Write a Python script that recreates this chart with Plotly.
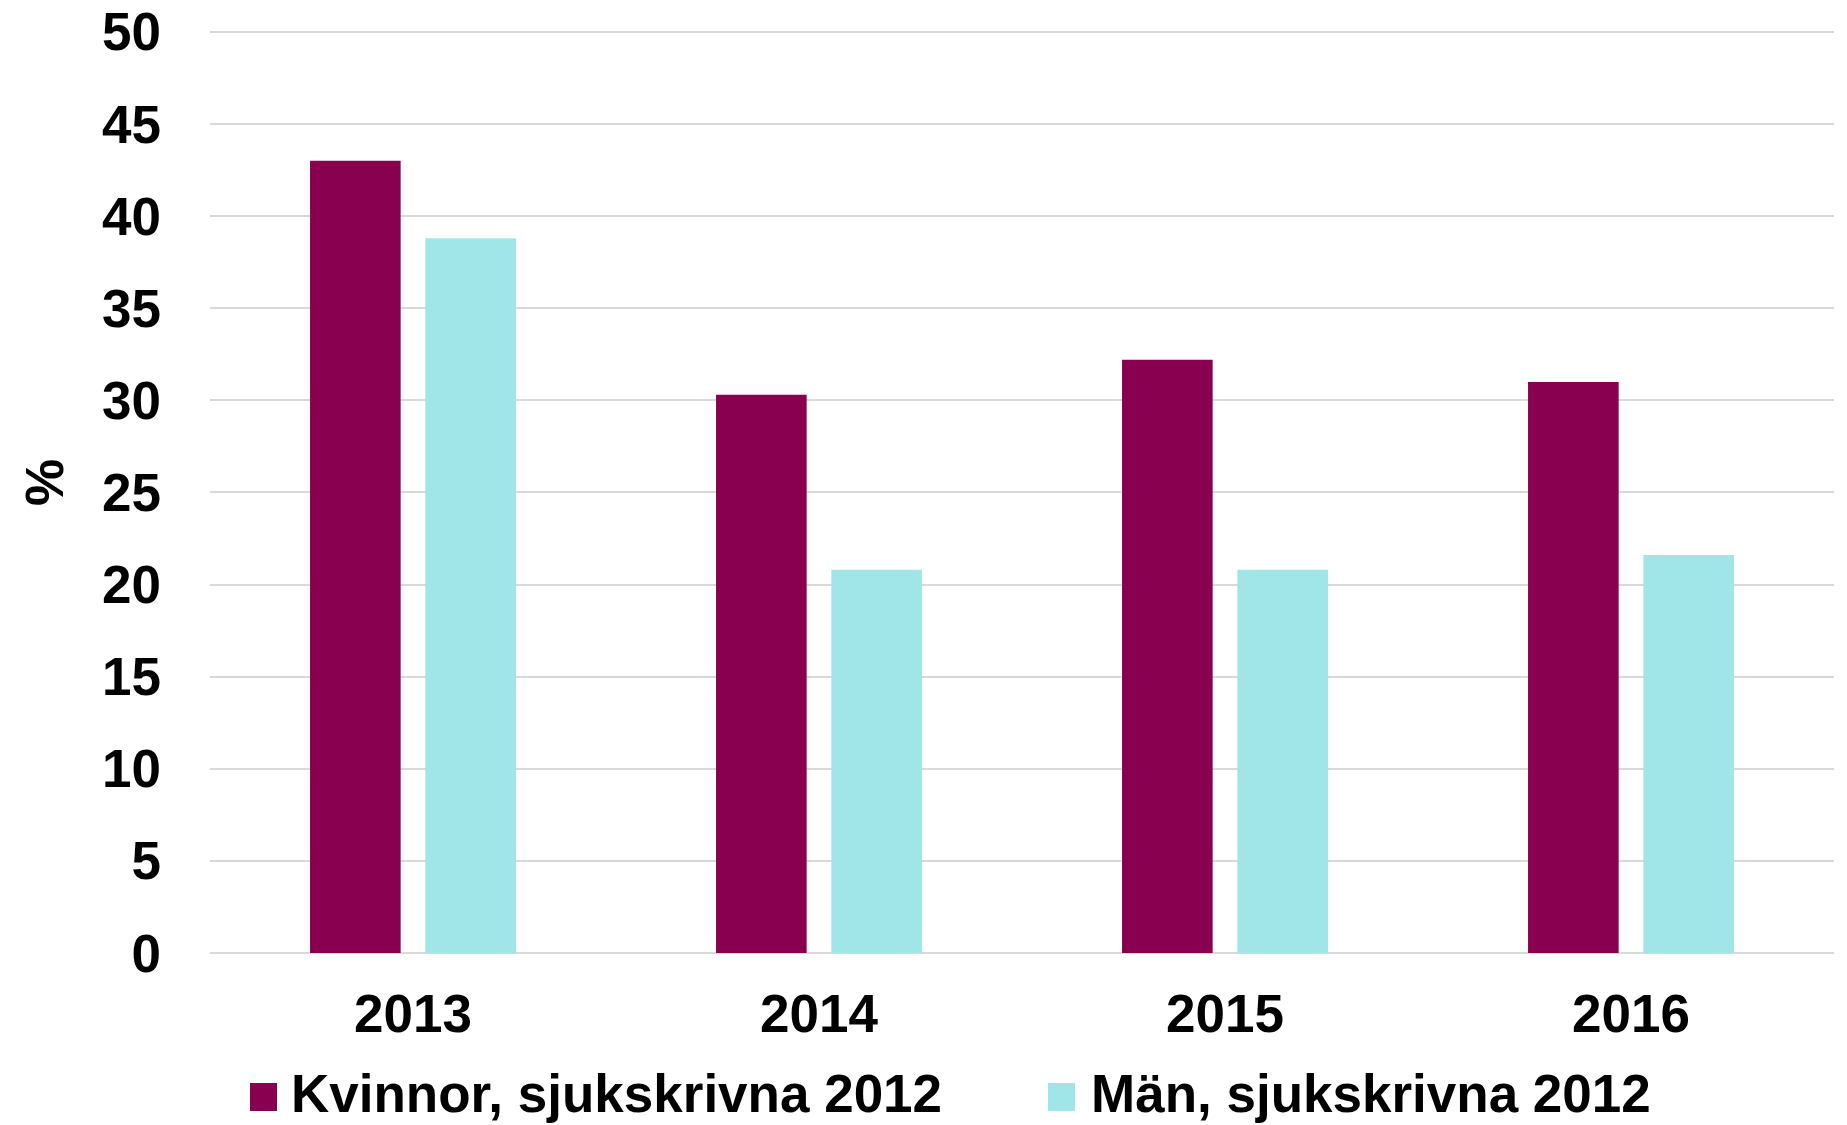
import plotly.graph_objects as go

years = ["2013", "2014", "2015", "2016"]
kvinnor = [43.0, 30.3, 32.2, 31.0]
man = [38.8, 20.8, 20.8, 21.6]
series_names = ["Kvinnor, sjukskrivna 2012", "Män, sjukskrivna 2012"]
colors = ["#8A0050", "#A0E6E8"]
y_ticks = [0, 5, 10, 15, 20, 25, 30, 35, 40, 45, 50]
y_title = "%"

W, H = 1847, 1125
L, R, T, B = 210, 13, 30, 172
FONT = "Liberation Sans"
FS = 53

fig = go.Figure()
for name, vals, col in zip(series_names, [kvinnor, man], colors):
    fig.add_trace(go.Bar(x=years, y=vals, name=name, marker=dict(color=col, line=dict(width=0)),
                         showlegend=False))

pw = W - L - R
ph = H - T - B

def px_x(x):
    return (x - L) / pw

def px_y(y):
    return (H - B - y) / ph

tf = dict(family=FONT, size=FS, color="black", weight="bold")

shapes = []
annotations = []
legend_items = [(250, 290), (1048, 1090)]
leg_y = 1097
text_y = 1093
for (mx, tx), name, col in zip(legend_items, series_names, colors):
    shapes.append(dict(type="rect", xref="paper", yref="paper",
                       x0=px_x(mx), x1=px_x(mx + 27), y0=px_y(leg_y - 14), y1=px_y(leg_y + 14),
                       fillcolor=col, line=dict(width=0)))
    annotations.append(dict(text=name, xref="paper", yref="paper", x=px_x(tx), y=px_y(text_y),
                            xanchor="left", yanchor="middle", showarrow=False, font=tf,
                            borderpad=0))

annotations.append(dict(text=y_title, xref="paper", yref="paper", x=px_x(44), y=px_y(483),
                        xanchor="center", yanchor="middle", showarrow=False, textangle=-90, font=tf))

fig.update_layout(
    width=W, height=H,
    margin=dict(l=L, r=R, t=T, b=B, pad=0, autoexpand=False),
    paper_bgcolor="white", plot_bgcolor="white",
    barmode="group", bargap=0.432, bargroupgap=0.214,
    font=tf,
    shapes=shapes, annotations=annotations,
    xaxis=dict(showgrid=False, showline=False, zeroline=False, ticks="", automargin=False,
               tickfont=tf, ticklabelstandoff=25),
    yaxis=dict(range=[0, 50.1], tickvals=y_ticks, showgrid=True, gridcolor="#D9D9D9", gridwidth=2,
               zeroline=True, zerolinecolor="#D9D9D9", zerolinewidth=2, showline=False, ticks="",
               automargin=False, tickfont=tf, ticklabelstandoff=48),
)

fig.write_html("out.html", config={"displayModeBar": False},
               post_script="document.body.style.margin='0';document.body.style.overflow='hidden';")
